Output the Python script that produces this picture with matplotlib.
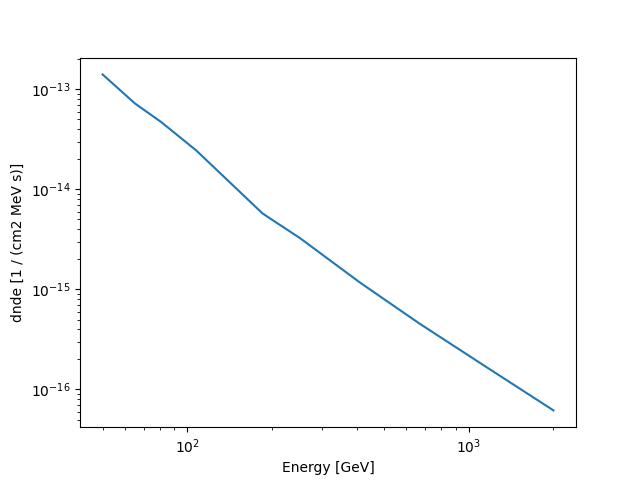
import matplotlib
matplotlib.use("Agg")
import matplotlib.pyplot as plt
import numpy as np

energy = [50, 65.1, 81, 107.6, 185, 252, 410, 667, 1176, 2000]
dnde = [1.41e-13, 7.24e-14, 4.68e-14, 2.45e-14, 5.75e-15, 3.24e-15,
        1.175e-15, 4.57e-16, 1.62e-16, 6.17e-17]

fig, ax = plt.subplots(figsize=(6.4, 4.8), dpi=100)
ax.plot(energy, dnde)
ax.set_xscale("log")
ax.set_yscale("log")
ax.set_xlabel("Energy [GeV]")
ax.set_ylabel("dnde [1 / (cm2 MeV s)]")
fig.savefig("out.png")
